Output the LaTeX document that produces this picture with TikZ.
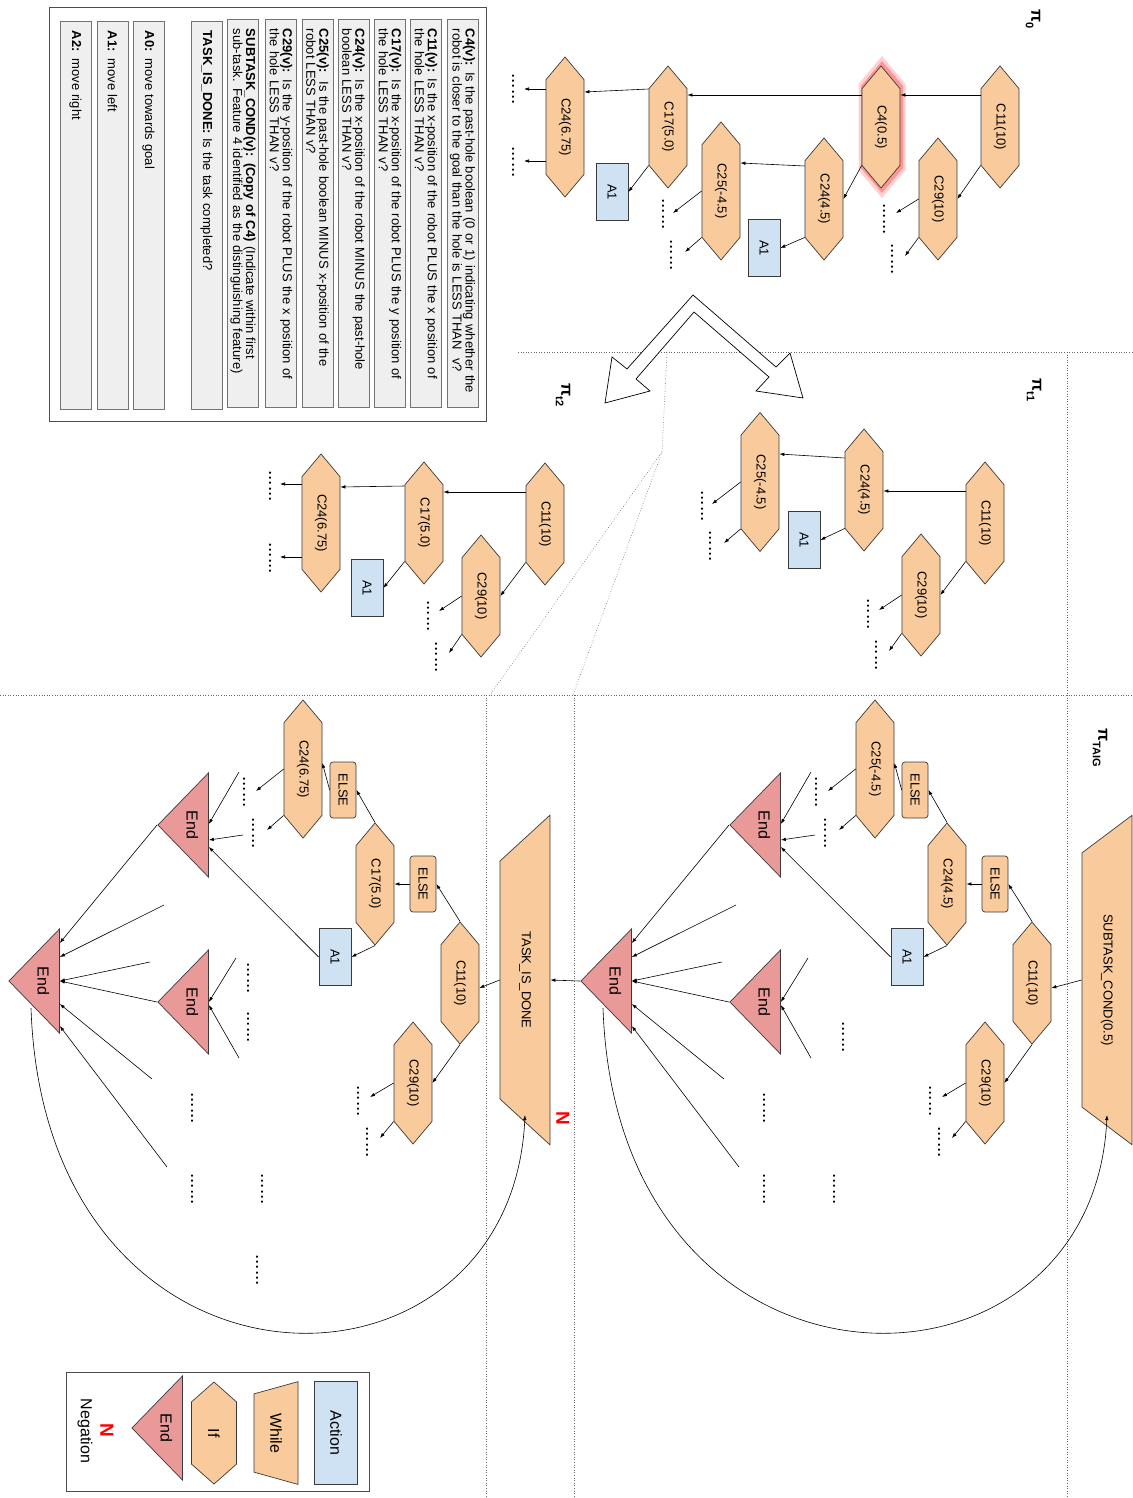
\documentclass[tikz,border=0pt]{standalone}
\usepackage{fontspec}
\setmainfont{Liberation Sans}
\usetikzlibrary{arrows.meta, shapes.symbols, shapes.geometric, calc}

\definecolor{ifcol}{HTML}{F9CB9C}
\definecolor{actcol}{HTML}{CFE2F3}
\definecolor{endcol}{HTML}{EA9999}
\definecolor{keycol}{HTML}{EFEFEF}
\definecolor{edgecol}{HTML}{3A3A3A}

\tikzset{
	shp/.style={draw=edgecol, line width=0.7pt, rotate=-90, inner sep=1pt, font=\fontsize{13}{15}\selectfont},
	ifbox/.style={shp, signal, signal to=east and west, signal pointer angle=80, fill=ifcol, minimum height=38pt, minimum width=#1},
	ifbox/.default=122pt,
	act/.style={shp, rectangle, fill=actcol, minimum width=57pt, minimum height=32pt},
	elsebox/.style={shp, rectangle, rounded corners=3pt, fill=ifcol, minimum width=56pt, minimum height=26pt},
	loopbox/.style={shp, trapezium, trapezium stretches=true, shape border rotate=180, trapezium left angle=35.5, trapezium right angle=35.5, fill=ifcol, minimum width=330pt, minimum height=50pt},
	endbox/.style={shp, isosceles triangle, isosceles triangle stretches, shape border rotate=270, fill=endcol, minimum width=104pt, minimum height=44pt, font=\fontsize{16}{18}\selectfont},
	moredots/.style={rotate=-90, inner sep=0pt, anchor=base, font=\fontsize{19}{19}\selectfont},
	keyrow/.style={draw=black!55, fill=keycol, rotate=-90, text width=368pt, align=left, inner xsep=10pt, inner ysep=2pt, minimum height=31pt, font=\fontsize{13}{13}\selectfont},
	treelabel/.style={rotate=-90, inner sep=0pt, font=\fontsize{17}{17}\selectfont\bfseries},
	neg/.style={rotate=-90, inner sep=0pt, text=red, font=\fontsize{19}{19}\selectfont\bfseries},
	zone/.style={dotted, draw=black!60, line width=0.6pt},
	conn/.style={-{Latex[length=5pt,width=3.5pt]}, line width=0.6pt},
}

\begin{document}
\begin{tikzpicture}[x=1pt, y=-1pt]
\useasboundingbox (0,0) rectangle (1132,1498);

%separators between the policies
\draw[zone] (518,352) -- (1132,352);
\draw[zone] (1067,352) -- (1067,1498);
\draw[zone] (0,695) -- (1132,695);
\draw[zone] (486,695) -- (486,1498);
\draw[zone] (574,695) -- (574,1498);
\draw[zone] (667,352) -- (662,452) -- (490,695);
\draw[zone] (662,452) -- (573,695);

%split arrow
\draw[fill=white, line width=0.7pt] (693,295) -- (776,367) -- (790,353) -- (803,398) -- (756,391) -- (769,377) -- (694,312) -- (636,379) -- (650,391) -- (605,403) -- (612,357) -- (627,369) -- cycle;

%feature key
\draw[draw=black!70, line width=0.8pt] (49,7) rectangle (486,421);
\node[keyrow] (key4) at (462.5,213) {\textbf{C4(v):} Is the past-hole boolean (0 or 1) indicating whether the\\robot is closer to the goal than the hole is LESS THAN\ \ v?};
\node[keyrow] (key11) at (426,213) {\textbf{C11(v):} Is the x-position of the robot PLUS the x position of\\the hole LESS THAN v?};
\node[keyrow] (key17) at (390,213) {\textbf{C17(v):} Is the x-position of the robot PLUS the y position of\\the hole LESS THAN v?};
\node[keyrow] (key24) at (353.5,213) {\textbf{C24(v):} Is the x-position of the robot MINUS the past-hole\\boolean LESS THAN v?};
\node[keyrow] (key25) at (317.5,213) {\textbf{C25(v):}\ \ Is the past-hole boolean MINUS x-position of the\\robot LESS THAN v?};
\node[keyrow] (key29) at (281,213) {\textbf{C29(v):} Is the y-position of the robot PLUS the x position of\\the hole LESS THAN v?};
\node[keyrow] (keysub) at (243,213) {\textbf{SUBTASK\_COND(v): (Copy of C4)} (Indicate within first\\sub-task. Feature 4 identified as the distinguishing feature)};
\node[keyrow] (keydone) at (206.5,215) {\textbf{TASK\_IS\_DONE:} Is the task completed?};
\node[keyrow] (keya0) at (148.5,215) {\textbf{A0:} move towards goal};
\node[keyrow] (keya1) at (112.5,215) {\textbf{A1:} move left};
\node[keyrow] (keya2) at (75.5,215) {\textbf{A2:} move right};

%pi_0
\node[treelabel] (lab0) at (1033,19) {π\raisebox{-0.6ex}{\fontsize{11}{11}\selectfont 0}};
\node[ifbox=142pt, minimum height=47pt, fill=red!18, draw=none] (t0glow) at (882,127) {};
\node[ifbox=132pt, minimum height=42pt, fill=red!42, draw=none] (t0glowin) at (882,127) {};
\node[ifbox] (t0c11) at (1000,127) {C11(10)};
\node[ifbox] (t0c4) at (881,127) {C4(0.5)};
\node[ifbox] (t0c17) at (668,127) {C17(5.0)};
\node[ifbox=140pt] (t0c24) at (565,127) {C24(6.75)};
\node[ifbox=138pt] (t0c25) at (721,191) {C25(-4.5)};
\node[ifbox] (t0c24b) at (824,199) {C24(4.5)};
\node[ifbox] (t0c29) at (938,199) {C29(10)};
\node[act] (t0a1) at (612,192) {A1};
\node[act] (t0a1b) at (764,248) {A1};
\node[moredots] (t0d1) at (512,89) {......};
\node[moredots] (t0d2) at (512,162) {......};
\node[moredots] (t0d3) at (662,214) {......};
\node[moredots] (t0d4) at (670,255) {......};
\node[moredots] (t0d5) at (883,219) {......};
\node[moredots] (t0d6) at (891,259) {......};
\draw[conn] ([shift={(0,-32)}]t0c11.south) -- ([shift={(0,-32)}]t0c4.north);
\draw[conn] ([shift={(0,-32)}]t0c4.south) -- ([shift={(0,-32)}]t0c17.north);
\draw[conn] ([shift={(0,-38)}]t0c17.south) -- ([shift={(0,-35)}]t0c24.north);
\draw[conn] ([shift={(0,-38)}]t0c24.south) -- ([shift={(12,0)}]t0d1.base);
\draw[conn] ([shift={(0,34)}]t0c24.south) -- ([shift={(12,-1)}]t0d2.base);
\draw[conn] (t0c17.south east) -- (t0a1.north);
\draw[conn] (t0c11.south east) -- (t0c29.north);
\draw[conn] (t0c4.south east) -- (t0c24b.north);
\draw[conn] ([shift={(0,-33)}]t0c24b.south) -- ([shift={(0,-28)}]t0c25.north);
\draw[conn] (t0c24b.south east) -- (t0a1b.north);
\draw[conn] (t0c25.south) -- ([shift={(11,-1)}]t0d3.base);
\draw[conn] (t0c25.south east) -- ([shift={(15,-3)}]t0d4.base);
\draw[conn] (t0c29.south) -- ([shift={(13,-6)}]t0d5.base);
\draw[conn] (t0c29.south east) -- ([shift={(14,-3)}]t0d6.base);

%pi_t1
\node[treelabel] (lab1) at (1034,390) {π\raisebox{-0.6ex}{\fontsize{11}{11}\selectfont t1}};
\node[ifbox] (t1c11) at (985,523) {C11(10)};
\node[ifbox] (t1c29) at (921,595) {C29(10)};
\node[ifbox] (t1c24) at (864,490) {C24(4.5)};
\node[ifbox=139pt] (t1c25) at (760,482) {C25(-4.5)};
\node[act] (t1a1) at (804,540) {A1};
\node[moredots] (t1d1) at (701,506) {......};
\node[moredots] (t1d2) at (709,546) {......};
\node[moredots] (t1d3) at (867,614) {......};
\node[moredots] (t1d4) at (875,655) {......};
\draw[conn] ([shift={(0,-32)}]t1c11.south) -- ([shift={(0,1)}]t1c24.north);
\draw[conn] ([shift={(0,-32)}]t1c24.south) -- ([shift={(0,-28)}]t1c25.north);
\draw[conn] (t1c24.south east) -- (t1a1.north);
\draw[conn] (t1c25.south) -- ([shift={(11,-2)}]t1d1.base);
\draw[conn] (t1c25.south east) -- ([shift={(15,-3)}]t1d2.base);
\draw[conn] (t1c11.south east) -- (t1c29.north);
\draw[conn] (t1c29.south) -- ([shift={(12,-4)}]t1d3.base);
\draw[conn] (t1c29.south east) -- ([shift={(14,-4)}]t1d4.base);

%pi_t2
\node[treelabel] (lab2) at (563,395) {π\raisebox{-0.6ex}{\fontsize{11}{11}\selectfont t2}};
\node[ifbox] (t2c11) at (545,524) {C11(10)};
\node[ifbox] (t2c17) at (424,523) {C17(5.0)};
\node[ifbox=138pt] (t2c24) at (321,523) {C24(6.75)};
\node[ifbox] (t2c29) at (481,596) {C29(10)};
\node[act] (t2a1) at (367,588) {A1};
\node[moredots] (t2d1) at (269,486) {......};
\node[moredots] (t2d2) at (269,558) {......};
\node[moredots] (t2d3) at (427,616) {......};
\node[moredots] (t2d4) at (435,657) {......};
\draw[conn] ([shift={(0,-32)}]t2c11.south) -- ([shift={(0,-31)}]t2c17.north);
\draw[conn] ([shift={(0,-37)}]t2c17.south) -- ([shift={(0,-36)}]t2c24.north);
\draw[conn] ([shift={(0,-39)}]t2c24.south) -- ([shift={(11,-2)}]t2d1.base);
\draw[conn] ([shift={(0,34)}]t2c24.south) -- ([shift={(11,-1)}]t2d2.base);
\draw[conn] (t2c17.south east) -- (t2a1.north);
\draw[conn] (t2c11.south east) -- (t2c29.north);
\draw[conn] (t2c29.south) -- ([shift={(12,-5)}]t2d3.base);
\draw[conn] (t2c29.south east) -- ([shift={(14,-4)}]t2d4.base);

%pi_TAIG and its sub-task tree
\node[treelabel] (labtaig) at (1100,748) {π\raisebox{-0.6ex}{\fontsize{11}{11}\selectfont TAIG}};
\foreach \side/\ox/\tx/\tlab/\qa/\qb in {l/0/525/TASK\_IS\_DONE/C17(5.0)/C24(6.75), r/572/535/SUBTASK\_COND(0.5)/C24(4.5)/C25(-4.5)} {
	\begin{scope}[shift={(\ox,0)}]
	\node[loopbox] (\side trap) at (\tx,980) {\tlab};
	\node[ifbox] (\side c11) at (460,983) {C11(10)};
	\node[elsebox] (\side else1) at (423,884) {ELSE};
	\node[ifbox] (\side qa) at (375,884) {\qa};
	\node[elsebox] (\side else2) at (343,790) {ELSE};
	\node[ifbox=138pt] (\side qb) at (303,769) {\qb};
	\node[act] (\side a1) at (335,957) {A1};
	\node[ifbox] (\side c29) at (413,1083) {C29(10)};
	\node[endbox, anchor=apex] (\side end1) at (157,825) {End};
	\node[endbox, anchor=apex] (\side end2) at (157,1002) {End};
	\node[endbox, anchor=apex] (\side end3) at (8,981) {End};
	\node[moredots] (\side d1) at (243,792) {......};
	\node[moredots] (\side d2) at (252,833) {......};
	\node[moredots] (\side d3) at (357,1101) {......};
	\node[moredots] (\side d4) at (366,1142) {......};
	\node[moredots] (\side d5) at (191,1108) {......};
	\node[moredots] (\side d6) at (191,1189) {......};
	\node[moredots] (\side d7) at (261,1189) {......};
	\coordinate (\side f1) at (239,772);
	\coordinate (\side f2) at (243,835);
	\coordinate (\side f3) at (236,958);
	\coordinate (\side f4) at (239,1058);
	\coordinate (\side f5) at (164,905);
	\coordinate (\side f6) at (150,962);
	\coordinate (\side f7) at (152,1079);
	\coordinate (\side f8) at (167,1167);
	\draw[conn] (\side trap.south) -- ([shift={(0,5)}]\side c11.north);
	\draw[conn] (\side c11.west) -- (\side else1.north);
	\draw[conn] (\side else1.south) -- (\side qa.north);
	\draw[conn] (\side qa.west) -- (\side else2.north);
	\draw[conn] (\side else2.south) -- ([shift={(0,-6)}]\side qb.north);
	\draw[conn] (\side qb.south) -- ([shift={(13,-1)}]\side d1.base);
	\draw[conn] (\side qb.south east) -- ([shift={(15,-3)}]\side d2.base);
	\draw[conn] (\side qa.east) -- (\side a1.north);
	\draw[conn] (\side c11.east) -- (\side c29.north);
	\draw[conn] (\side c29.south) -- ([shift={(13,-4)}]\side d3.base);
	\draw[conn] (\side c29.south east) -- ([shift={(14,-4)}]\side d4.base);
	\draw[conn] (\side a1.south) -- ([shift={(0,22)}]\side end1.lower side);
	\draw[conn] (\side f1) -- ([shift={(0,-1)}]\side end1.lower side);
	\draw[conn] (\side f2) -- ([shift={(0,15)}]\side end1.lower side);
	\draw[conn] (\side f3) -- (\side end2.lower side);
	\draw[conn] (\side f4) -- ([shift={(0,3)}]\side end2.lower side);
	\draw[conn] (\side end1.apex) -- ([shift={(0,-38)}]\side end3.lower side);
	\draw[conn] (\side f5) -- ([shift={(0,-24)}]\side end3.lower side);
	\draw[conn] (\side f6) -- (\side end3.lower side);
	\draw[conn] (\side end2.apex) -- (\side end3.lower side);
	\draw[conn] (\side f7) -- ([shift={(0,23)}]\side end3.lower side);
	\draw[conn] (\side f8) -- ([shift={(0,45)}]\side end3.lower side);
	%loop back to the while
	\draw[conn] ([shift={(23,27)}]\side end3.apex) .. controls +(14,414) and +(-14,305) .. ([shift={(0,135)}]\side trap.center);
	\end{scope}
}
\node[moredots] (ld8) at (247,978) {......};
\node[moredots] (ld9) at (247,1027) {......};
\node[moredots] (ld10) at (256,1270) {......};
\node[moredots] (rd8) at (842,1037) {......};
\draw[conn] (rend3.apex) -- (ltrap.north);
\node[neg] (lneg) at (563,1118) {N};

%shape key
\draw[draw=black!70, line width=0.8pt] (66,1372) rectangle (369,1491);
\node[act, minimum width=103pt, minimum height=43pt, font=\fontsize{16}{18}\selectfont] (keyact) at (336,1433) {Action};
\node[loopbox, minimum width=103pt, minimum height=44pt, trapezium left angle=64.5, trapezium right angle=64.5, font=\fontsize{16}{18}\selectfont] (keywhile) at (276,1433) {While};
\node[ifbox=102pt, minimum height=45pt, signal pointer angle=97, font=\fontsize{16}{18}\selectfont] (keyif) at (214,1433) {If};
\node[endbox, anchor=apex] (keyend) at (131,1428) {End};
\node[neg] (keyneg) at (107,1430) {N};
\node[rotate=-90, font=\fontsize{16}{18}\selectfont] (keynegtext) at (85,1431) {Negation};
\end{tikzpicture}
\end{document}
